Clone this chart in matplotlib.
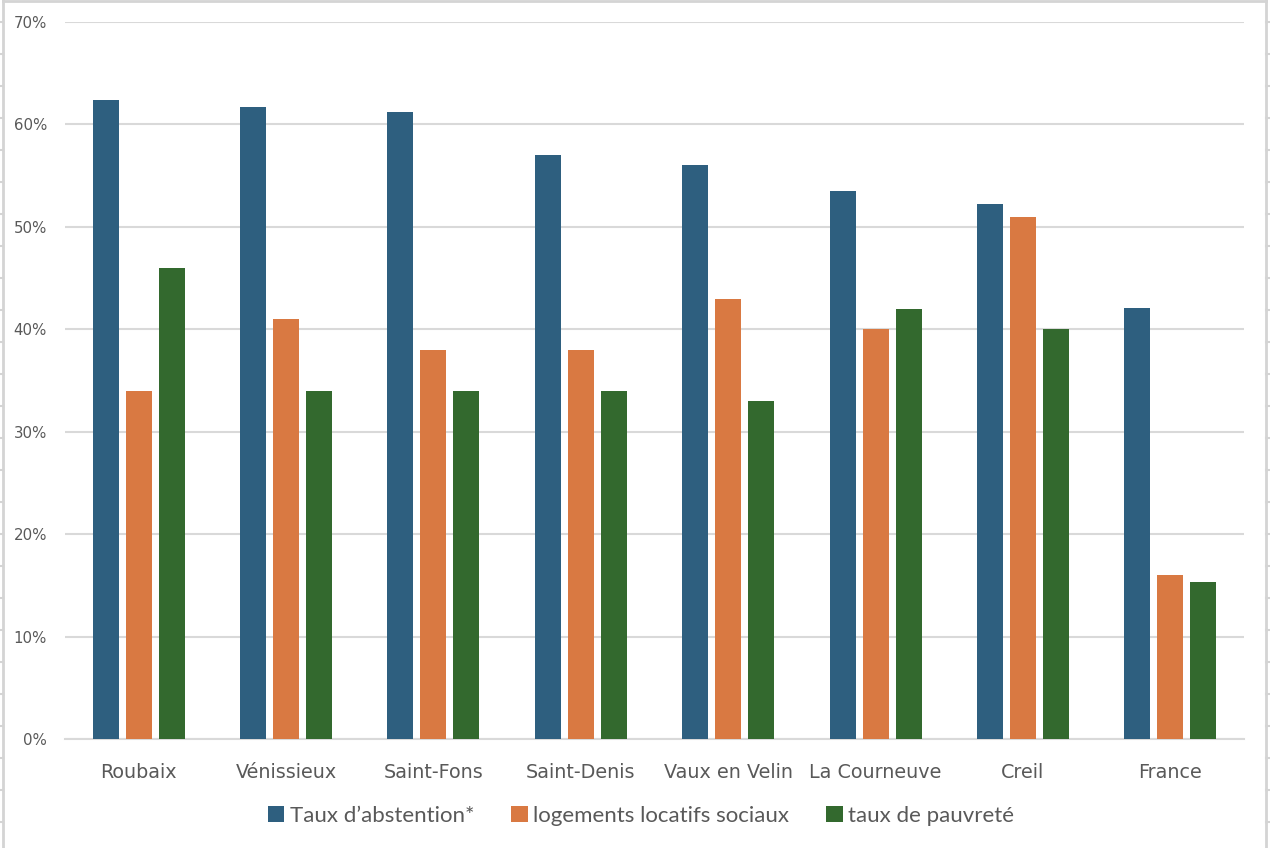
import numpy as np
import matplotlib.pyplot as plt
from matplotlib.lines import Line2D
from matplotlib.patches import Patch
from matplotlib.ticker import FuncFormatter, MultipleLocator

# Data (percent)
villes = ["Roubaix", "Vénissieux", "Saint-Fons", "Saint-Denis",
          "Vaux en Velin", "La Courneuve", "Creil", "France"]
abstention = [62.4, 61.7, 61.2, 57.0, 56.0, 53.5, 52.2, 42.1]
logements = [34.0, 41.0, 38.0, 38.0, 43.0, 40.0, 51.0, 16.0]
pauvrete = [46.0, 34.0, 34.0, 34.0, 33.0, 42.0, 40.0, 15.3]
series_names = ["Taux d\u2019abstention*", "logements locatifs sociaux", "taux de pauvreté"]

blue = "#2e5f7f"
orange = "#d97942"
green = "#33692e"
grey_txt = "#595959"
grid_col = "#d9d9d9"

W, H = 1270, 848
fig = plt.figure(figsize=(W / 100, H / 100), dpi=100, facecolor="white")
# axes box in pixels: x 65..1244, y 22..739
ax = fig.add_axes([65 / W, 1 - 739 / H, (1244 - 65) / W, (739 - 22) / H])

x = np.arange(len(villes))
bw = 0.176
step = 0.224
ax.bar(x - step, abstention, bw, color=blue, zorder=3)
ax.bar(x, logements, bw, color=orange, zorder=3)
ax.bar(x + step, pauvrete, bw, color=green, zorder=3)

ax.set_xlim(-0.5, len(villes) - 0.5)
ax.set_ylim(0, 70)
ax.yaxis.set_major_locator(MultipleLocator(10))
ax.yaxis.set_major_formatter(FuncFormatter(lambda v, p: f"{int(v)}%"))
ax.grid(axis="y", color=grid_col, linewidth=1.5, zorder=0)
ax.set_axisbelow(True)
for s in ["top", "right", "left"]:
    ax.spines[s].set_visible(False)
ax.spines["bottom"].set_color(grid_col)
ax.spines["bottom"].set_linewidth(1.5)
ax.tick_params(axis="both", length=0, colors=grey_txt)
ax.tick_params(axis="y", pad=13, labelsize=10.8)
ax.tick_params(axis="x", pad=17, labelsize=13.8)
ax.set_xticks(x)
ax.set_xticklabels(villes)

handles = [Patch(facecolor=c, edgecolor="none") for c in (blue, orange, green)]
leg = fig.legend(handles, series_names, loc="center", bbox_to_anchor=(641 / W, 1 - 816 / H),
                 ncol=3, frameon=False, handlelength=0.75, handleheight=0.75,
                 handletextpad=0.25, columnspacing=1.65, prop={"family": "Lato", "size": 16})
for t in leg.get_texts():
    t.set_color(grey_txt)

# leftover spreadsheet cell borders around the chart
frame = "#d4d4d4"
fig.add_artist(Line2D([3 / W, 3 / W], [0, 1], transform=fig.transFigure, color=frame, lw=2))
fig.add_artist(Line2D([1266 / W, 1266 / W], [0, 1], transform=fig.transFigure, color=frame, lw=2))
fig.add_artist(Line2D([3 / W, 1266 / W], [1 - 1 / H, 1 - 1 / H], transform=fig.transFigure, color=frame, lw=2))
for yp in range(22, H, 32):
    fy = 1 - yp / H
    fig.add_artist(Line2D([0, 3 / W], [fy, fy], transform=fig.transFigure, color=frame, lw=1.5))
    fig.add_artist(Line2D([1266 / W, 1], [fy, fy], transform=fig.transFigure, color=frame, lw=1.5))

fig.savefig("out.png", dpi=100, facecolor="white")
